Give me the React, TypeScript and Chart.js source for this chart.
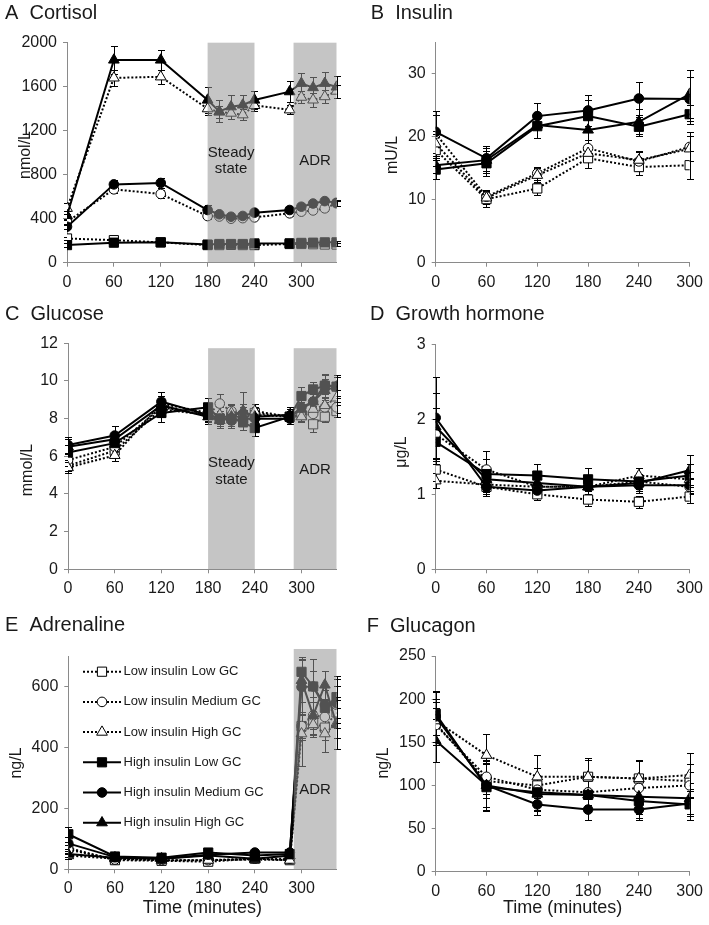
import React, { useEffect, useRef } from 'react';
import { Chart, registerables } from 'chart.js';
Chart.register(...registerables);

const FONT = "'Liberation Sans', Arial, Helvetica, sans-serif";
const TXT = '#1a1a1a';
const AXIS = '#8a8a8a';
const SHADE = 'rgba(150,150,150,0.55)';

// ---------- series ----------
const seriesLabels = [
  'Low insulin Low GC',
  'Low insulin Medium GC',
  'Low insulin High GC',
  'High insulin Low GC',
  'High insulin Medium GC',
  'High insulin High GC',
];
const seriesStyles = [
  { shape: 'rect', filled: false, dashed: true },
  { shape: 'circle', filled: false, dashed: true },
  { shape: 'triangle', filled: false, dashed: true },
  { shape: 'rect', filled: true, dashed: false },
  { shape: 'circle', filled: true, dashed: false },
  { shape: 'triangle', filled: true, dashed: false },
];
const markerRadius: Record<string, number> = { rect: 6.5, circle: 4.8, triangle: 6.2 };

// ---------- time points ----------
const timesInfusion = [0, 60, 120, 180, 195, 210, 225, 240, 285, 300, 315, 330, 345];
const timesAdrenaline = [0, 60, 120, 180, 240, 285, 300, 315, 330, 345];
const timesHourly = [0, 60, 120, 180, 240, 300];
const xTickLabels = [0, 60, 120, 180, 240, 300];

// ---------- A Cortisol (nmol/L) ----------
const cortisolLL = [220, 205, 185, 160, 160, 162, 160, 160, 170, 170, 168, 165, 165];
const cortisolLM = [370, 667, 625, 424, 420, 400, 405, 412, 449, 464, 475, 494, 540];
const cortisolLH = [495, 1680, 1690, 1400, 1370, 1360, 1345, 1430, 1390, 1505, 1480, 1510, 1560];
const cortisolHL = [160, 182, 185, 165, 170, 170, 170, 175, 176, 180, 182, 185, 185];
const cortisolHM = [327, 712, 725, 479, 440, 418, 425, 455, 479, 509, 538, 560, 545];
const cortisolHH = [430, 1843, 1843, 1479, 1375, 1418, 1434, 1479, 1555, 1631, 1592, 1631, 1598];
const cortisolErrLL = [15, 12, 12, 10, 10, 10, 10, 10, 10, 10, 10, 10, 10];
const cortisolErrLM = [30, 35, 40, 25, 20, 20, 20, 20, 20, 25, 25, 25, 25];
const cortisolErrLH = [50, 70, 65, 60, 55, 55, 50, 50, 40, 55, 60, 60, 60];
const cortisolErrHL = [15, 12, 12, 10, 10, 10, 10, 10, 10, 10, 10, 10, 10];
const cortisolErrHM = [25, 40, 45, 45, 25, 20, 20, 20, 20, 25, 25, 25, 25];
const cortisolErrHH = [40, 125, 95, 120, 100, 110, 90, 85, 95, 95, 100, 100, 100];
const cortisolYTicks = [0, 400, 800, 1200, 1600, 2000];

// ---------- B Insulin (mU/L) ----------
const insulinLL = [17.9, 10.1, 11.8, 16.6, 15.2, 15.5];
const insulinLM = [20.5, 10.5, 14.2, 18.2, 16.1, 18.4];
const insulinLH = [18.9, 10.3, 13.9, 17.4, 16.3, 18.1];
const insulinHL = [14.8, 15.8, 21.7, 23.3, 21.6, 23.6];
const insulinHM = [20.8, 16.6, 23.3, 24.2, 26.1, 26.0];
const insulinHH = [15.5, 16.3, 21.9, 21.1, 22.4, 26.8];
const insulinErrLL = [2.5, 1.3, 1.0, 1.5, 1.3, 2.2];
const insulinErrLM = [3.0, 1.0, 1.0, 1.3, 1.5, 2.3];
const insulinErrLH = [2.0, 1.0, 1.2, 1.3, 1.5, 2.0];
const insulinErrHL = [1.5, 2.0, 1.8, 2.5, 1.5, 1.5];
const insulinErrHM = [3.3, 2.0, 2.1, 2.5, 2.6, 3.5];
const insulinErrHH = [1.2, 2.0, 2.0, 2.5, 2.0, 3.8];
const insulinYTicks = [0, 10, 20, 30];

// ---------- C Glucose (mmol/L) ----------
const glucoseLL = [5.5, 6.3, 8.5, 8.2, 8.0, 8.2, 8.0, 8.3, 8.1, 8.2, 7.7, 8.1, 8.4];
const glucoseLM = [5.8, 6.5, 8.6, 8.2, 8.8, 8.4, 8.2, 8.2, 8.1, 8.2, 8.25, 8.6, 8.6];
const glucoseLH = [5.4, 6.05, 8.8, 8.3, 8.2, 8.3, 8.4, 8.4, 8.1, 8.1, 8.5, 8.7, 9.1];
const glucoseHL = [6.2, 6.7, 8.3, 8.6, 8.0, 8.0, 7.8, 7.5, 8.1, 9.2, 9.55, 9.75, 9.7];
const glucoseHM = [6.6, 7.1, 8.9, 8.2, 8.0, 7.9, 8.0, 8.0, 8.0, 8.6, 8.9, 9.8, 9.7];
const glucoseHH = [6.5, 6.9, 8.7, 8.1, 7.9, 8.1, 8.4, 8.1, 8.2, 8.5, 8.9, 9.5, 9.7];
const glucoseErrLL = [0.3, 0.3, 0.4, 0.3, 0.3, 0.3, 0.3, 0.3, 0.3, 0.3, 0.4, 0.3, 0.3];
const glucoseErrLM = [0.3, 0.3, 0.4, 0.4, 0.5, 0.4, 0.4, 0.4, 0.3, 0.3, 0.4, 0.4, 0.3];
const glucoseErrLH = [0.3, 0.3, 0.4, 0.4, 0.4, 0.4, 0.4, 0.4, 0.3, 0.3, 0.4, 0.4, 0.4];
const glucoseErrHL = [0.4, 0.4, 0.5, 0.5, 0.4, 0.4, 0.4, 0.4, 0.4, 0.5, 0.4, 0.6, 0.5];
const glucoseErrHM = [0.4, 0.5, 0.5, 0.4, 0.4, 0.4, 0.4, 0.4, 0.3, 0.4, 0.4, 0.5, 0.6];
const glucoseErrHH = [0.4, 0.4, 0.5, 0.4, 0.4, 0.4, 1.0, 0.5, 0.4, 0.4, 0.4, 0.6, 0.6];
const glucoseYTicks = [0, 2, 4, 6, 8, 10, 12];

// ---------- D Growth hormone (µg/L) ----------
const ghLL = [1.33, 1.1, 1.0, 0.93, 0.9, 0.97];
const ghLM = [1.8, 1.33, 1.1, 1.1, 1.17, 1.1];
const ghLH = [1.18, 1.13, 1.1, 1.1, 1.25, 1.2];
const ghHL = [1.7, 1.27, 1.25, 1.2, 1.17, 1.25];
const ghHM = [2.02, 1.1, 1.05, 1.1, 1.12, 1.12];
const ghHH = [1.9, 1.2, 1.15, 1.1, 1.15, 1.32];
const ghErrLL = [0.15, 0.1, 0.08, 0.08, 0.08, 0.08];
const ghErrLM = [0.35, 0.25, 0.1, 0.1, 0.1, 0.1];
const ghErrLH = [0.1, 0.1, 0.1, 0.1, 0.1, 0.1];
const ghErrHL = [0.3, 0.2, 0.15, 0.15, 0.1, 0.15];
const ghErrHM = [0.55, 0.12, 0.1, 0.1, 0.1, 0.1];
const ghErrHH = [0.45, 0.15, 0.12, 0.12, 0.1, 0.2];
const ghYTicks = [0, 1, 2, 3];

// ---------- E Adrenaline (ng/L) ----------
const adrLL = [70, 30, 28, 25, 35, 30, 470, 480, 465, 515];
const adrLM = [65, 32, 30, 30, 35, 35, 470, 505, 500, 540];
const adrLH = [45, 35, 30, 30, 32, 30, 445, 475, 445, 480];
const adrHL = [115, 42, 38, 55, 45, 50, 648, 600, 530, 565];
const adrHM = [85, 40, 35, 48, 55, 55, 598, 600, 540, 545];
const adrHH = [50, 38, 35, 45, 35, 45, 620, 505, 605, 475];
const adrErrLL = [10, 5, 5, 5, 5, 5, 45, 40, 40, 50];
const adrErrLM = [15, 5, 5, 5, 5, 5, 40, 45, 55, 60];
const adrErrLH = [10, 5, 5, 5, 5, 5, 105, 40, 60, 50];
const adrErrHL = [25, 8, 8, 10, 10, 10, 50, 50, 60, 70];
const adrErrHM = [20, 8, 8, 10, 10, 10, 90, 90, 60, 80];
const adrErrHH = [10, 8, 8, 8, 8, 8, 70, 60, 45, 80];
const adrYTicks = [0, 200, 400, 600];

// ---------- F Glucagon (ng/L) ----------
const glucagonLL = [172, 105, 100, 110, 108, 105];
const glucagonLM = [170, 110, 95, 92, 97, 100];
const glucagonLH = [175, 135, 110, 110, 108, 112];
const glucagonHL = [183, 98, 92, 89, 82, 78];
const glucagonHM = [180, 100, 78, 72, 72, 79];
const glucagonHH = [152, 100, 90, 89, 87, 85];
const glucagonErrLL = [25, 20, 20, 20, 20, 20];
const glucagonErrLM = [20, 20, 15, 15, 15, 15];
const glucagonErrLH = [25, 25, 25, 22, 22, 25];
const glucagonErrHL = [25, 28, 20, 20, 20, 18];
const glucagonErrHM = [30, 28, 12, 12, 12, 15];
const glucagonErrHH = [25, 25, 20, 20, 20, 18];
const glucagonYTicks = [0, 50, 100, 150, 200, 250];

// ---------- shaded periods ----------
const steadyState = [180, 240];
const adrPeriod = [290, 345];

type Panel = any;

const panels: Panel[] = [
  {
    key: 'A', left: 0, top: 0, w: 350, h: 300,
    area: { left: 67, right: 336.5, top: 42.7, bottom: 262.7 },
    title: 'A  Cortisol', titlePos: [5, 18.5],
    yTitle: 'nmol/L', yTitlePos: [26, 155],
    times: timesInfusion, xMax: 345, yMax: 2000, yTicks: cortisolYTicks,
    values: [cortisolLL, cortisolLM, cortisolLH, cortisolHL, cortisolHM, cortisolHH],
    errors: [cortisolErrLL, cortisolErrLM, cortisolErrLH, cortisolErrHL, cortisolErrHM, cortisolErrHH],
    shades: [
      { range: steadyState, top: 2000, lines: ['Steady', 'state'], textY: [153, 169] },
      { range: adrPeriod, top: 2000, lines: ['ADR'], textY: [161] },
    ],
  },
  {
    key: 'B', left: 350, top: 0, w: 359, h: 300,
    area: { left: 85.7, right: 344, top: 42.5, bottom: 262.7 },
    title: 'B  Insulin', titlePos: [20.7, 18.5],
    yTitle: 'mU/L', yTitlePos: [42.7, 155],
    times: timesHourly, xMax: 300, yMax: 35, yTicks: insulinYTicks,
    values: [insulinLL, insulinLM, insulinLH, insulinHL, insulinHM, insulinHH],
    errors: [insulinErrLL, insulinErrLM, insulinErrLH, insulinErrHL, insulinErrHM, insulinErrHH],
    shades: [],
  },
  {
    key: 'C', left: 0, top: 300, w: 350, h: 300,
    area: { left: 68, right: 336.5, top: 43.3, bottom: 269.3 },
    title: 'C  Glucose', titlePos: [5, 19.5],
    yTitle: 'mmol/L', yTitlePos: [28, 170],
    times: timesInfusion, xMax: 345, yMax: 12, yTicks: glucoseYTicks,
    values: [glucoseLL, glucoseLM, glucoseLH, glucoseHL, glucoseHM, glucoseHH],
    errors: [glucoseErrLL, glucoseErrLM, glucoseErrLH, glucoseErrHL, glucoseErrHM, glucoseErrHH],
    shades: [
      { range: steadyState, top: 11.74, lines: ['Steady', 'state'], textY: [163, 180] },
      { range: adrPeriod, top: 11.74, lines: ['ADR'], textY: [170] },
    ],
  },
  {
    key: 'D', left: 350, top: 300, w: 359, h: 300,
    area: { left: 85.7, right: 344, top: 44.3, bottom: 269.3 },
    title: 'D  Growth hormone', titlePos: [20, 19.5],
    yTitle: 'μg/L', yTitlePos: [51.7, 152],
    times: timesHourly, xMax: 300, yMax: 3, yTicks: ghYTicks,
    values: [ghLL, ghLM, ghLH, ghHL, ghHM, ghHH],
    errors: [ghErrLL, ghErrLM, ghErrLH, ghErrHL, ghErrHM, ghErrHH],
    shades: [],
  },
  {
    key: 'E', left: 0, top: 600, w: 350, h: 325,
    area: { left: 68.3, right: 336.5, top: 56, bottom: 269.3 },
    title: 'E  Adrenaline', titlePos: [5, 30.5],
    yTitle: 'ng/L', yTitlePos: [17, 163],
    xTitle: 'Time (minutes)', xTitleY: 308,
    times: timesAdrenaline, xMax: 345, yMax: 700, yTicks: adrYTicks,
    values: [adrLL, adrLM, adrLH, adrHL, adrHM, adrHH],
    errors: [adrErrLL, adrErrLM, adrErrLH, adrErrHL, adrErrHM, adrErrHH],
    shades: [{ range: adrPeriod, top: 723, lines: ['ADR'], textY: [190] }],
    legend: { x0: 83, x1: 121, tx: 123.5, y0: 71.7, dy: 30.2 },
  },
  {
    key: 'F', left: 350, top: 600, w: 359, h: 325,
    area: { left: 85.7, right: 344, top: 56, bottom: 271.7 },
    title: 'F  Glucagon', titlePos: [16.7, 31.5],
    yTitle: 'ng/L', yTitlePos: [33.3, 163],
    xTitle: 'Time (minutes)', xTitleY: 308,
    times: timesHourly, xMax: 300, yMax: 250, yTicks: glucagonYTicks,
    values: [glucagonLL, glucagonLM, glucagonLH, glucagonHL, glucagonHM, glucagonHH],
    errors: [glucagonErrLL, glucagonErrLM, glucagonErrLH, glucagonErrHL, glucagonErrHM, glucagonErrHH],
    shades: [],
  },
];

function drawMarker(ctx: CanvasRenderingContext2D, st: any, x: number, y: number) {
  const r = markerRadius[st.shape];
  ctx.beginPath();
  if (st.shape === 'rect') {
    const s = Math.SQRT1_2 * r;
    ctx.rect(x - s, y - s, 2 * s, 2 * s);
  } else if (st.shape === 'circle') {
    ctx.arc(x, y, r, 0, Math.PI * 2);
  } else {
    let rad = 0;
    ctx.moveTo(x + Math.sin(rad) * r, y - Math.cos(rad) * r);
    rad += (2 * Math.PI) / 3;
    ctx.lineTo(x + Math.sin(rad) * r, y - Math.cos(rad) * r);
    rad += (2 * Math.PI) / 3;
    ctx.lineTo(x + Math.sin(rad) * r, y - Math.cos(rad) * r);
    ctx.closePath();
  }
  ctx.fillStyle = st.filled ? '#000' : '#fff';
  ctx.fill();
  ctx.lineWidth = 1;
  ctx.strokeStyle = '#000';
  ctx.setLineDash([]);
  ctx.stroke();
}

function decorPlugin(p: Panel) {
  return {
    id: 'decor' + p.key,
    beforeDatasetsDraw(chart: any) {
      const ctx = chart.ctx as CanvasRenderingContext2D;
      const xs = chart.scales.x;
      const ys = chart.scales.y;
      ctx.save();
      ctx.strokeStyle = '#000';
      ctx.lineWidth = 1;
      ctx.setLineDash([]);
      p.errors.forEach((errs: number[], i: number) => {
        errs.forEach((e: number, j: number) => {
          const v = p.values[i][j];
          const x = Math.round(xs.getPixelForValue(p.times[j])) + 0.5;
          const y1 = Math.round(ys.getPixelForValue(v + e)) + 0.5;
          const y2 = Math.round(ys.getPixelForValue(Math.max(0, v - e))) + 0.5;
          ctx.beginPath();
          ctx.moveTo(x, y1);
          ctx.lineTo(x, y2);
          ctx.moveTo(x - 3.5, y1);
          ctx.lineTo(x + 3.5, y1);
          ctx.moveTo(x - 3.5, y2);
          ctx.lineTo(x + 3.5, y2);
          ctx.stroke();
        });
      });
      ctx.restore();
    },
    afterDatasetsDraw(chart: any) {
      const ctx = chart.ctx as CanvasRenderingContext2D;
      const xs = chart.scales.x;
      const ys = chart.scales.y;
      ctx.save();
      p.shades.forEach((s: any) => {
        const x1 = xs.getPixelForValue(s.range[0]);
        const x2 = xs.getPixelForValue(s.range[1]);
        const yt = ys.getPixelForValue(s.top);
        const yb = ys.getPixelForValue(0);
        ctx.fillStyle = SHADE;
        ctx.fillRect(x1, yt, x2 - x1, yb - yt);
        ctx.fillStyle = TXT;
        ctx.font = `15px ${FONT}`;
        ctx.textAlign = 'center';
        ctx.textBaseline = 'middle';
        s.lines.forEach((t: string, k: number) => ctx.fillText(t, (x1 + x2) / 2, s.textY[k]));
      });
      if (p.legend) {
        const L = p.legend;
        seriesLabels.forEach((lab, i) => {
          const st = seriesStyles[i];
          const y = L.y0 + i * L.dy;
          ctx.strokeStyle = '#000';
          ctx.lineWidth = 2;
          ctx.setLineDash(st.dashed ? [2, 2] : []);
          ctx.beginPath();
          ctx.moveTo(L.x0, y);
          ctx.lineTo(L.x1, y);
          ctx.stroke();
          ctx.setLineDash([]);
          drawMarker(ctx, st, (L.x0 + L.x1) / 2, y);
          ctx.fillStyle = TXT;
          ctx.font = `13px ${FONT}`;
          ctx.textAlign = 'left';
          ctx.textBaseline = 'middle';
          ctx.fillText(lab, L.tx, y);
        });
      }
      ctx.restore();
    },
    afterDraw(chart: any) {
      const ctx = chart.ctx as CanvasRenderingContext2D;
      ctx.save();
      ctx.fillStyle = TXT;
      ctx.font = `20px ${FONT}`;
      ctx.textAlign = 'left';
      ctx.textBaseline = 'alphabetic';
      ctx.fillText(p.title, p.titlePos[0], p.titlePos[1]);
      ctx.font = `16px ${FONT}`;
      ctx.textAlign = 'center';
      ctx.textBaseline = 'middle';
      ctx.save();
      ctx.translate(p.yTitlePos[0], p.yTitlePos[1]);
      ctx.rotate(-Math.PI / 2);
      ctx.fillText(p.yTitle, 0, 0);
      ctx.restore();
      if (p.xTitle) {
        const ca = chart.chartArea;
        ctx.font = `18px ${FONT}`;
        ctx.fillText(p.xTitle, (ca.left + ca.right) / 2, p.xTitleY);
      }
      ctx.restore();
    },
  };
}

function buildChart(canvas: HTMLCanvasElement, p: Panel) {
  const datasets = p.values.map((vals: number[], i: number) => {
    const st = seriesStyles[i];
    return {
      label: seriesLabels[i],
      data: p.times.map((t: number, j: number) => ({ x: t, y: vals[j] })),
      borderColor: '#000',
      borderWidth: 2,
      borderDash: st.dashed ? [2, 2] : [],
      pointStyle: st.shape,
      pointRadius: markerRadius[st.shape],
      pointBackgroundColor: st.filled ? '#000' : '#fff',
      pointBorderColor: '#000',
      pointBorderWidth: 1,
      fill: false,
      tension: 0,
      order: 6 - i,
    };
  });
  const tickFont = { family: FONT, size: 16 };
  const plain = (v: any) => String(v);
  return new Chart(canvas, {
    type: 'line',
    data: { datasets },
    options: {
      responsive: false,
      devicePixelRatio: 1,
      animation: false,
      events: [],
      layout: {
        padding: { left: 0, top: p.area.top, right: p.w - p.area.right, bottom: 0 },
      },
      plugins: { legend: { display: false }, title: { display: false }, tooltip: { enabled: false } },
      scales: {
        x: {
          type: 'linear',
          min: 0,
          max: p.xMax,
          afterBuildTicks: (s: any) => { s.ticks = xTickLabels.map((v) => ({ value: v })); },
          afterFit: (s: any) => { s.height = p.h - p.area.bottom; },
          grid: { drawOnChartArea: false, drawTicks: true, tickLength: 4, color: AXIS },
          border: { display: true, color: AXIS, width: 1 },
          ticks: { font: tickFont, color: TXT, padding: 6, maxRotation: 0, autoSkip: false, callback: plain },
        },
        y: {
          type: 'linear',
          min: 0,
          max: p.yMax,
          afterBuildTicks: (s: any) => { s.ticks = p.yTicks.map((v: number) => ({ value: v })); },
          afterFit: (s: any) => { s.width = p.area.left; },
          grid: { drawOnChartArea: false, drawTicks: true, tickLength: 4, color: AXIS },
          border: { display: true, color: AXIS, width: 1 },
          ticks: { font: tickFont, color: TXT, padding: 6, autoSkip: false, callback: plain },
        },
      },
    } as any,
    plugins: [decorPlugin(p)],
  });
}

function PanelCanvas({ p }: { p: Panel }) {
  const ref = useRef<HTMLCanvasElement>(null);
  useEffect(() => {
    const chart = buildChart(ref.current as HTMLCanvasElement, p);
    return () => chart.destroy();
  }, []);
  return (
    <canvas
      ref={ref}
      width={p.w}
      height={p.h}
      style={{ position: 'absolute', left: p.left, top: p.top, width: p.w, height: p.h }}
    />
  );
}

export default function App() {
  return (
    <div style={{ position: 'absolute', left: 0, top: 0, width: 709, height: 925, background: '#fff' }}>
      {panels.map((p) => (
        <PanelCanvas key={p.key} p={p} />
      ))}
    </div>
  );
}
